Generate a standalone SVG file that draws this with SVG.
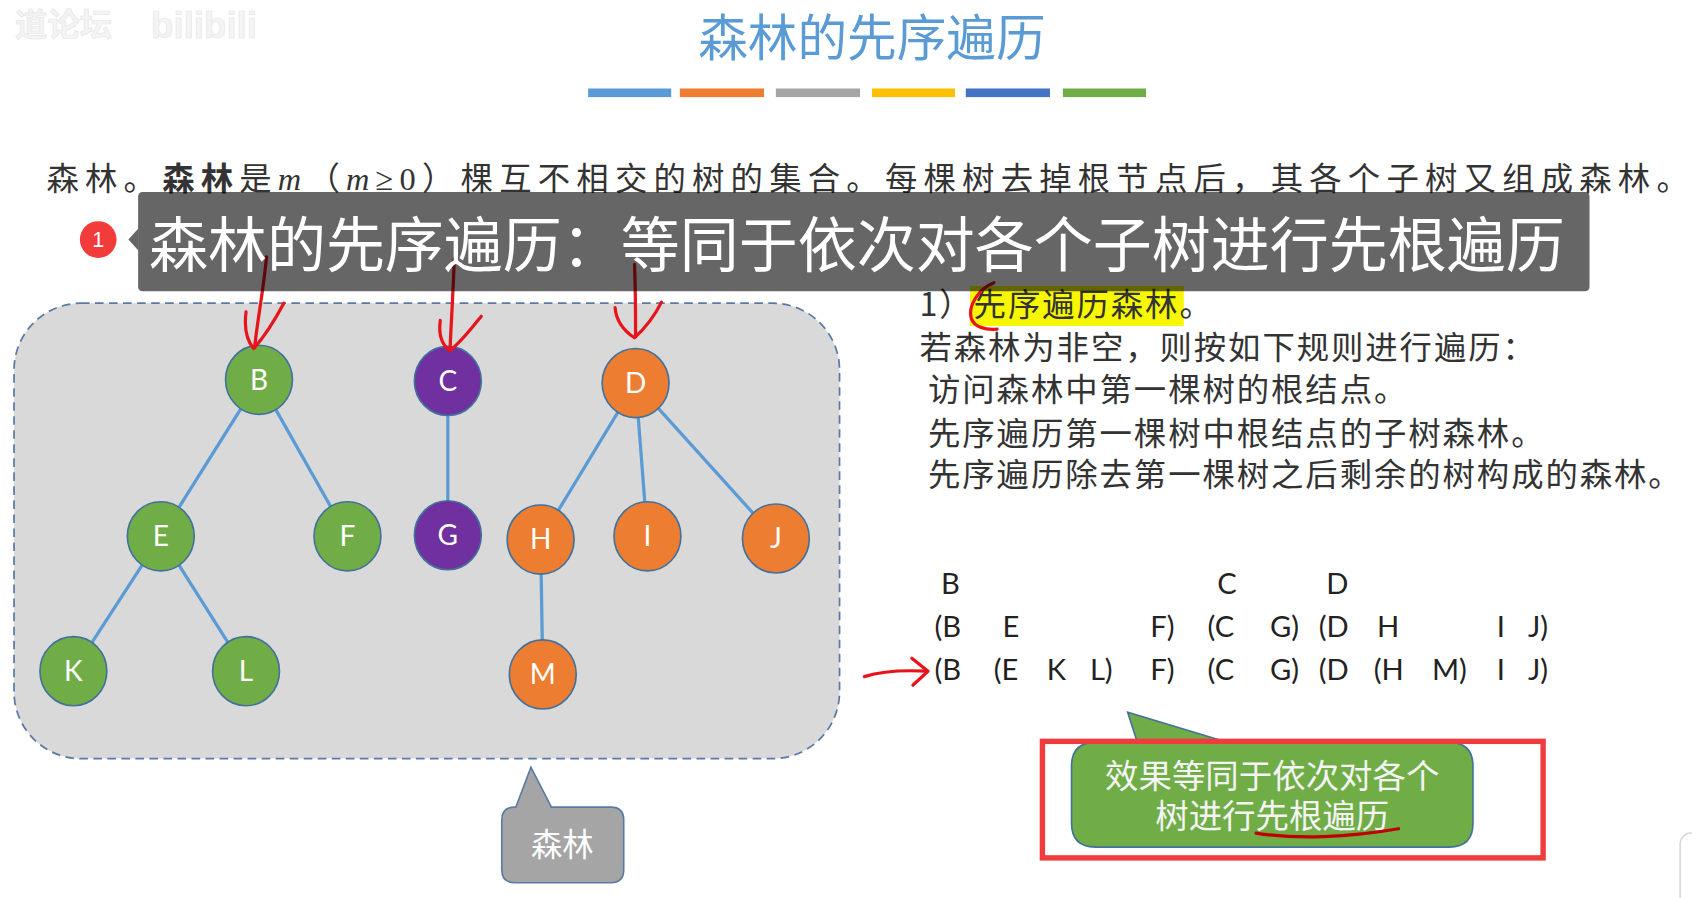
<svg xmlns="http://www.w3.org/2000/svg" width="1692" height="898" viewBox="0 0 1692 898">
<defs>
<style>
.cjk{font-family:"Noto Sans CJK SC","Noto Sans",sans-serif;}
.body{font-family:"Noto Sans CJK SC","Noto Sans",sans-serif;font-size:30px;fill:#333;}
.m{font-family:"Liberation Serif",serif;font-style:italic;}
.ser{font-family:"Liberation Serif",serif;}
.edge{stroke:#5b9bd5;stroke-width:3;fill:none;}
.node{stroke:#41719c;stroke-width:1.5;}
.green{fill:#70ad47;}
.purple{fill:#7030a0;}
.orange{fill:#ed7d31;}
.lbl{font-family:"Lato","Liberation Sans",sans-serif;font-size:26px;fill:#fff;text-anchor:middle;}
.red{stroke:#e8141b;stroke-width:3;fill:none;stroke-linecap:round;stroke-linejoin:round;}
.trav{font-family:"Lato","Liberation Sans",sans-serif;font-size:27px;fill:#222;}
</style>
</defs>
<rect x="0" y="0" width="1692" height="898" fill="#ffffff"/>
<g transform="scale(1.0791)">
  <!-- watermark -->
  <g id="watermark" fill="#f4f4f4" stroke="#e6e6e6" stroke-width="0.6">
    <text x="14" y="33" class="cjk" font-size="30" font-weight="bold">道论坛</text>
    <text x="140" y="35" font-family="Liberation Sans, sans-serif" font-size="34" font-weight="bold">bilibili</text>
  </g>
  <!-- title -->
  <g id="title">
    <text x="808" y="52" class="cjk" font-size="46" fill="#5b9bd5" text-anchor="middle">森林的先序遍历</text>
    <rect x="545" y="82" width="77" height="8" fill="#5b9bd5"/>
    <rect x="630" y="82" width="78" height="8" fill="#ed7d31"/>
    <rect x="719" y="82" width="78" height="8" fill="#a5a5a5"/>
    <rect x="808" y="82" width="77" height="8" fill="#ffc000"/>
    <rect x="895" y="82" width="78" height="8" fill="#4472c4"/>
    <rect x="985" y="82" width="77" height="8" fill="#70ad47"/>
  </g>
  <!-- definition line -->
  <g id="definition">
    <text x="43" y="176" class="body" font-size="32" textLength="1522" lengthAdjust="spacing">森林。<tspan font-weight="bold">森林</tspan>是<tspan class="m">m</tspan>（<tspan class="m">m</tspan><tspan class="ser">≥0</tspan>）棵互不相交的树的集合。每棵树去掉根节点后，其各个子树又组成森林。</text>
  </g>
  <!-- right text block -->
  <g id="rules">
    <rect x="899" y="265" width="198" height="37" fill="#f7f700"/>
    <text x="852" y="293" class="body" letter-spacing="1.8">1）先序遍历森林。</text>
    <text x="852" y="333" class="body" letter-spacing="1.8">若森林为非空，则按如下规则进行遍历：</text>
    <text x="860" y="372" class="body" letter-spacing="1.8">访问森林中第一棵树的根结点。</text>
    <text x="860" y="412" class="body" letter-spacing="1.8">先序遍历第一棵树中根结点的子树森林。</text>
    <text x="860" y="450" class="body" letter-spacing="1.8">先序遍历除去第一棵树之后剩余的树构成的森林。</text>
    <path class="red" d="M921 262 C906 268 897 284 900 295 C903 303 913 306 924 305"/>
  </g>
  <!-- forest container -->
  <g id="forest">
    <rect x="13" y="281" width="765" height="422" rx="62" fill="#d9d9d9" stroke="#5a7aa5" stroke-width="1.6" stroke-dasharray="8 5"/>
  </g>
  <!-- connectors -->
  <g id="connectors">
    <line class="edge" x1="240" y1="352" x2="149" y2="497"/>
    <line class="edge" x1="240" y1="352" x2="322" y2="497"/>
    <line class="edge" x1="149" y1="497" x2="68" y2="622"/>
    <line class="edge" x1="149" y1="497" x2="228" y2="622"/>
    <line class="edge" x1="415" y1="353" x2="415" y2="496"/>
    <line class="edge" x1="589" y1="355" x2="501" y2="500"/>
    <line class="edge" x1="589" y1="355" x2="600" y2="497"/>
    <line class="edge" x1="589" y1="355" x2="719" y2="499"/>
    <line class="edge" x1="501" y1="500" x2="503" y2="625"/>
  </g>
  <!-- nodes -->
  <g id="node-B"><ellipse class="node green" cx="240" cy="352" rx="31" ry="32"/><text class="lbl" x="240" y="361">B</text></g>
  <g id="node-C"><ellipse class="node purple" cx="415" cy="353" rx="31" ry="32"/><text class="lbl" x="415" y="362">C</text></g>
  <g id="node-D"><ellipse class="node orange" cx="589" cy="355" rx="31" ry="32"/><text class="lbl" x="589" y="364">D</text></g>
  <g id="node-E"><ellipse class="node green" cx="149" cy="497" rx="31" ry="32"/><text class="lbl" x="149" y="506">E</text></g>
  <g id="node-F"><ellipse class="node green" cx="322" cy="497" rx="31" ry="32"/><text class="lbl" x="322" y="506">F</text></g>
  <g id="node-G"><ellipse class="node purple" cx="415" cy="496" rx="31" ry="32"/><text class="lbl" x="415" y="505">G</text></g>
  <g id="node-H"><ellipse class="node orange" cx="501" cy="500" rx="31" ry="32"/><text class="lbl" x="501" y="509">H</text></g>
  <g id="node-I"><ellipse class="node orange" cx="600" cy="497" rx="31" ry="32"/><text class="lbl" x="600" y="506">I</text></g>
  <g id="node-J"><ellipse class="node orange" cx="719" cy="499" rx="31" ry="32"/><text class="lbl" x="719" y="508">J</text></g>
  <g id="node-K"><ellipse class="node green" cx="68" cy="622" rx="31" ry="32"/><text class="lbl" x="68" y="631">K</text></g>
  <g id="node-L"><ellipse class="node green" cx="228" cy="622" rx="31" ry="32"/><text class="lbl" x="228" y="631">L</text></g>
  <g id="node-M"><ellipse class="node orange" cx="503" cy="625" rx="31" ry="32"/><text class="lbl" x="503" y="634">M</text></g>
  <!-- red hand-drawn arrows -->
  <g id="red-arrows">
    <path class="red" d="M247 238 C244 270 238 300 236 322"/>
    <path class="red" d="M228 289 C226 305 229 316 235 323 C245 312 255 296 263 281"/>
    <path class="red" d="M421 240 C420 270 418 300 417 325"/>
    <path class="red" d="M408 297 C406 312 410 320 417 325 C428 316 438 303 446 293"/>
    <path class="red" d="M588 245 C589 270 589 295 589 312"/>
    <path class="red" d="M570 285 C571 298 579 307 588 313 C598 304 607 292 613 280"/>
  </g>
  <!-- subtitle overlay -->
  <g id="overlay">
    <rect x="128" y="178" width="1345" height="92" rx="4" fill="#000" fill-opacity="0.6"/>
    <polygon points="128,212 119,222 128,232" fill="#000" fill-opacity="0.6"/>
    <text x="138" y="247" class="cjk" font-size="56" fill="#ffffff" textLength="1312" lengthAdjust="spacingAndGlyphs">森林的先序遍历：等同于依次对各个子树进行先根遍历</text>
  </g>
  <g id="badge">
    <circle cx="91" cy="222" r="17" fill="#f23c3c"/>
    <text x="91" y="229" font-family="Liberation Sans, sans-serif" font-size="20" fill="#fff" text-anchor="middle">1</text>
  </g>
  <!-- traversal sequences -->
  <g id="traversal" class="trav">
    <text x="872" y="550">B</text>
    <text x="1128" y="550">C</text>
    <text x="1229" y="550">D</text>
    <text x="866" y="590">(B</text>
    <text x="929" y="590">E</text>
    <text x="1066" y="590">F)</text>
    <text x="1119" y="590">(C</text>
    <text x="1177" y="590">G)</text>
    <text x="1222" y="590">(D</text>
    <text x="1276" y="590">H</text>
    <text x="1387" y="590">I</text>
    <text x="1416" y="590">J)</text>
    <text x="866" y="630">(B</text>
    <text x="921" y="630">(E</text>
    <text x="970" y="630">K</text>
    <text x="1010" y="630">L)</text>
    <text x="1066" y="630">F)</text>
    <text x="1119" y="630">(C</text>
    <text x="1177" y="630">G)</text>
    <text x="1222" y="630">(D</text>
    <text x="1273" y="630">(H</text>
    <text x="1327" y="630">M)</text>
    <text x="1387" y="630">I</text>
    <text x="1416" y="630">J)</text>
  </g>
  <g id="red-pointer">
    <path class="red" d="M801 627 C820 621 840 621 859 622"/>
    <path class="red" d="M845 610 C850 614 855 618 860 622 C855 627 850 631 846 635"/>
  </g>
  <!-- gray callout -->
  <g id="callout-forest">
    <path d="M478 748 L492 711 L511 748 L566 748 Q578 748 578 760 L578 806 Q578 818 566 818 L477 818 Q465 818 465 806 L465 760 Q465 748 477 748 Z" fill="#a5a5a5" stroke="#5a7aa5" stroke-width="1.5"/>
    <text x="521" y="793" class="cjk" font-size="29" fill="#ffffff" text-anchor="middle">森林</text>
  </g>
  <!-- green callout -->
  <g id="callout-effect">
    <path d="M1015 688 L1054 688 L1045 660 L1138 688 L1343 688 Q1365 688 1365 710 L1365 763 Q1365 785 1343 785 L1015 785 Q993 785 993 763 L993 710 Q993 688 1015 688 Z" fill="#70ad47" stroke="#41719c" stroke-width="1.5"/>
    <text x="1179" y="730" class="cjk" font-size="31" fill="#f4f4f4" text-anchor="middle">效果等同于依次对各个</text>
    <text x="1179" y="767" class="cjk" font-size="31" fill="#f4f4f4" text-anchor="middle">树进行先根遍历</text>
    <path d="M1164 772 C1200 778 1250 776 1296 768" stroke="#c00000" stroke-width="3" fill="none" stroke-linecap="round"/>
  </g>
  <g id="highlight-box">
    <rect x="966" y="687" width="464" height="108" fill="none" stroke="#f03c3c" stroke-width="5"/>
  </g>
  <g id="ui-corner">
    <rect x="1557" y="772" width="40" height="80" rx="10" fill="#ffffff" stroke="#d8d8d8" stroke-width="1.5"/>
  </g>
</g>
</svg>
